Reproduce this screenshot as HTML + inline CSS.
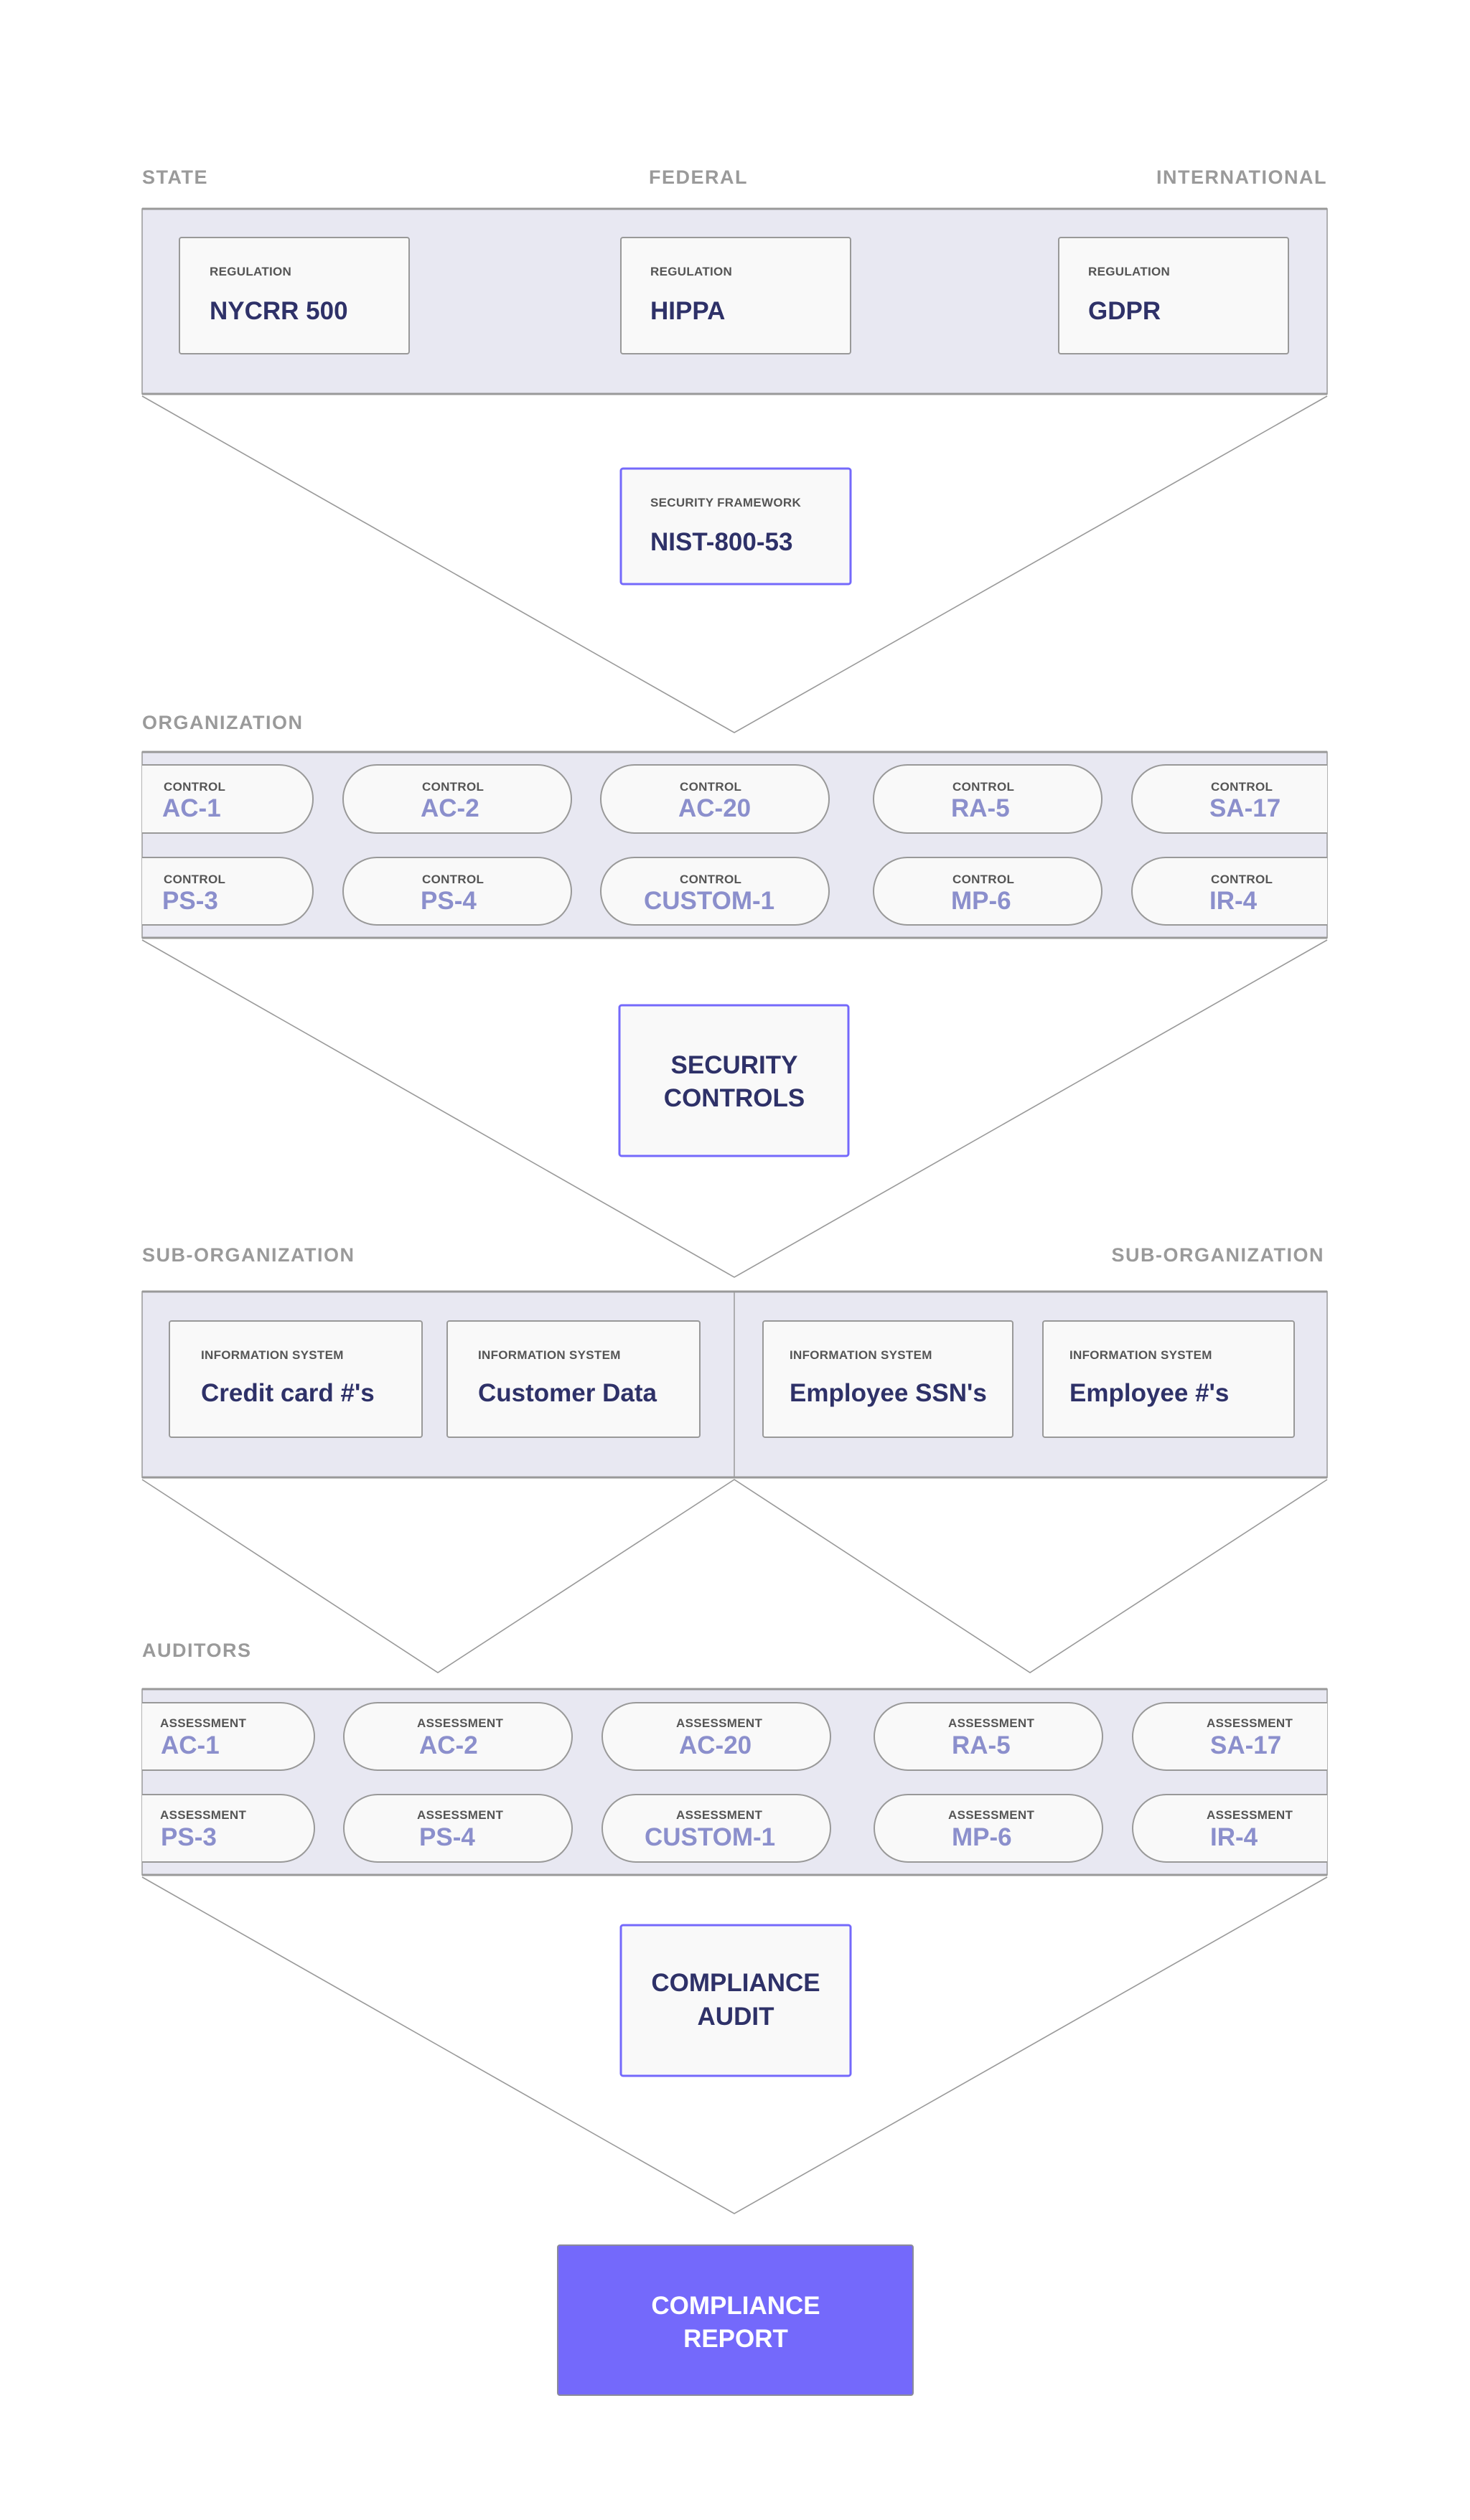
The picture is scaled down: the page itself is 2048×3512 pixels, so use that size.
<!DOCTYPE html>
<html><head><meta charset="utf-8"><style>
html,body{margin:0;padding:0;background:#fff;}
svg{display:block;}
text{font-family:"Liberation Sans",sans-serif;font-weight:bold;}
.sec{fill:#9a9a9a;font-size:27px;letter-spacing:1.5px;}
.lab{fill:#555;font-size:17px;letter-spacing:0.3px;}
.big{fill:#2e3168;font-size:35px;}
.pil{fill:#8b8fcc;font-size:35px;}
.card{fill:#f9f9f9;stroke:#999;stroke-width:2;}
.pc{fill:#f9f9f9;stroke:#999;stroke-width:2;}
.band{fill:#e8e8f2;stroke:#999;stroke-width:1.5;}
.ln{stroke:#999;stroke-width:1.6;fill:none;}
.pb{fill:#f9f9f9;stroke:#7469fb;stroke-width:3;}
</style></head><body>
<svg width="2048" height="3512" viewBox="0 0 2048 3512" xmlns="http://www.w3.org/2000/svg">
<defs>
<clipPath id="c1"><rect x="198" y="1048" width="1651" height="259"/></clipPath>
<clipPath id="c2"><rect x="198" y="2354" width="1651" height="259"/></clipPath>
</defs>

<!-- Section 1 -->
<text class="sec" x="198" y="256">STATE</text>
<text class="sec" x="904" y="256">FEDERAL</text>
<text class="sec" x="1849" y="256" text-anchor="end">INTERNATIONAL</text>
<rect class="band" x="198" y="291" width="1651" height="258"/>
<line x1="198" y1="291" x2="1849" y2="291" stroke="#999" stroke-width="3"/>
<line x1="198" y1="549" x2="1849" y2="549" stroke="#999" stroke-width="3"/>
<rect class="card" x="250" y="331" width="320" height="162" rx="3"/>
<rect class="card" x="865" y="331" width="320" height="162" rx="3"/>
<rect class="card" x="1475" y="331" width="320" height="162" rx="3"/>
<text class="lab" x="292" y="384">REGULATION</text>
<text class="big" x="292" y="445">NYCRR 500</text>
<text class="lab" x="906" y="384">REGULATION</text>
<text class="big" x="906" y="445">HIPPA</text>
<text class="lab" x="1516" y="384">REGULATION</text>
<text class="big" x="1516" y="445">GDPR</text>
<polyline class="ln" points="198,552 1023,1021 1849,552"/>
<rect class="pb" x="865" y="653" width="320" height="161" rx="3"/>
<text class="lab" x="906" y="706">SECURITY FRAMEWORK</text>
<text class="big" x="906" y="767">NIST-800-53</text>

<!-- Section 2 -->
<text class="sec" x="198" y="1016">ORGANIZATION</text>
<rect class="band" x="198" y="1048" width="1651" height="259"/>
<line x1="198" y1="1048" x2="1849" y2="1048" stroke="#999" stroke-width="3"/>
<line x1="198" y1="1307" x2="1849" y2="1307" stroke="#999" stroke-width="3"/>
<g clip-path="url(#c1)">
<rect class="pc" x="118" y="1066" width="318" height="95" rx="47"/>
<rect class="pc" x="478" y="1066" width="318" height="95" rx="47"/>
<rect class="pc" x="837" y="1066" width="318" height="95" rx="47"/>
<rect class="pc" x="1217" y="1066" width="318" height="95" rx="47"/>
<rect class="pc" x="1577" y="1066" width="318" height="95" rx="47"/>
<rect class="pc" x="118" y="1195" width="318" height="94" rx="47"/>
<rect class="pc" x="478" y="1195" width="318" height="94" rx="47"/>
<rect class="pc" x="837" y="1195" width="318" height="94" rx="47"/>
<rect class="pc" x="1217" y="1195" width="318" height="94" rx="47"/>
<rect class="pc" x="1577" y="1195" width="318" height="94" rx="47"/>
</g>
<g>
<text class="lab" x="228" y="1102">CONTROL</text><text class="pil" x="226" y="1138">AC-1</text>
<text class="lab" x="588" y="1102">CONTROL</text><text class="pil" x="586" y="1138">AC-2</text>
<text class="lab" x="947" y="1102">CONTROL</text><text class="pil" x="945" y="1138">AC-20</text>
<text class="lab" x="1327" y="1102">CONTROL</text><text class="pil" x="1325" y="1138">RA-5</text>
<text class="lab" x="1687" y="1102">CONTROL</text><text class="pil" x="1685" y="1138">SA-17</text>
<text class="lab" x="228" y="1231">CONTROL</text><text class="pil" x="226" y="1267">PS-3</text>
<text class="lab" x="588" y="1231">CONTROL</text><text class="pil" x="586" y="1267">PS-4</text>
<text class="lab" x="947" y="1231">CONTROL</text><text class="pil" x="897" y="1267">CUSTOM-1</text>
<text class="lab" x="1327" y="1231">CONTROL</text><text class="pil" x="1325" y="1267">MP-6</text>
<text class="lab" x="1687" y="1231">CONTROL</text><text class="pil" x="1685" y="1267">IR-4</text>
</g>
<polyline class="ln" points="198,1310 1023,1780 1849,1310"/>
<rect class="pb" x="863" y="1401" width="319" height="210" rx="3"/>
<text class="big" x="1023" y="1496" text-anchor="middle">SECURITY</text>
<text class="big" x="1023" y="1542" text-anchor="middle">CONTROLS</text>

<!-- Section 3 -->
<text class="sec" x="198" y="1758">SUB-ORGANIZATION</text>
<text class="sec" x="1845" y="1758" text-anchor="end">SUB-ORGANIZATION</text>
<rect class="band" x="198" y="1800" width="1651" height="259"/>
<line x1="198" y1="1800" x2="1849" y2="1800" stroke="#999" stroke-width="3"/>
<line x1="198" y1="2059" x2="1849" y2="2059" stroke="#999" stroke-width="3"/>
<line x1="1023" y1="1800" x2="1023" y2="2059" stroke="#999" stroke-width="1.5"/>
<rect class="card" x="236" y="1841" width="352" height="162" rx="3"/>
<rect class="card" x="623" y="1841" width="352" height="162" rx="3"/>
<rect class="card" x="1063" y="1841" width="348" height="162" rx="3"/>
<rect class="card" x="1453" y="1841" width="350" height="162" rx="3"/>
<text class="lab" x="280" y="1894">INFORMATION SYSTEM</text>
<text class="big" x="280" y="1953">Credit card #'s</text>
<text class="lab" x="666" y="1894">INFORMATION SYSTEM</text>
<text class="big" x="666" y="1953">Customer Data</text>
<text class="lab" x="1100" y="1894">INFORMATION SYSTEM</text>
<text class="big" x="1100" y="1953">Employee SSN's</text>
<text class="lab" x="1490" y="1894">INFORMATION SYSTEM</text>
<text class="big" x="1490" y="1953">Employee #'s</text>
<polyline class="ln" points="198,2062 610,2331 1023,2062 1435,2331 1849,2062"/>

<!-- Section 4 -->
<text class="sec" x="198" y="2309">AUDITORS</text>
<rect class="band" x="198" y="2354" width="1651" height="259"/>
<line x1="198" y1="2354" x2="1849" y2="2354" stroke="#999" stroke-width="3"/>
<line x1="198" y1="2613" x2="1849" y2="2613" stroke="#999" stroke-width="3"/>
<g clip-path="url(#c2)">
<rect class="pc" x="120" y="2373" width="318" height="94" rx="47"/>
<rect class="pc" x="479" y="2373" width="318" height="94" rx="47"/>
<rect class="pc" x="839" y="2373" width="318" height="94" rx="47"/>
<rect class="pc" x="1218" y="2373" width="318" height="94" rx="47"/>
<rect class="pc" x="1578" y="2373" width="318" height="94" rx="47"/>
<rect class="pc" x="120" y="2501" width="318" height="94" rx="47"/>
<rect class="pc" x="479" y="2501" width="318" height="94" rx="47"/>
<rect class="pc" x="839" y="2501" width="318" height="94" rx="47"/>
<rect class="pc" x="1218" y="2501" width="318" height="94" rx="47"/>
<rect class="pc" x="1578" y="2501" width="318" height="94" rx="47"/>
</g>
<text class="lab" x="223" y="2407">ASSESSMENT</text><text class="pil" x="224" y="2444">AC-1</text>
<text class="lab" x="581" y="2407">ASSESSMENT</text><text class="pil" x="584" y="2444">AC-2</text>
<text class="lab" x="942" y="2407">ASSESSMENT</text><text class="pil" x="946" y="2444">AC-20</text>
<text class="lab" x="1321" y="2407">ASSESSMENT</text><text class="pil" x="1326" y="2444">RA-5</text>
<text class="lab" x="1681" y="2407">ASSESSMENT</text><text class="pil" x="1686" y="2444">SA-17</text>
<text class="lab" x="223" y="2535">ASSESSMENT</text><text class="pil" x="224" y="2572">PS-3</text>
<text class="lab" x="581" y="2535">ASSESSMENT</text><text class="pil" x="584" y="2572">PS-4</text>
<text class="lab" x="942" y="2535">ASSESSMENT</text><text class="pil" x="898" y="2572">CUSTOM-1</text>
<text class="lab" x="1321" y="2535">ASSESSMENT</text><text class="pil" x="1326" y="2572">MP-6</text>
<text class="lab" x="1681" y="2535">ASSESSMENT</text><text class="pil" x="1686" y="2572">IR-4</text>
<polyline class="ln" points="198,2616 1023,3085 1849,2616"/>
<rect class="pb" x="865" y="2683" width="320" height="210" rx="3"/>
<text class="big" x="1025" y="2775" text-anchor="middle">COMPLIANCE</text>
<text class="big" x="1025" y="2822" text-anchor="middle">AUDIT</text>

<rect x="777" y="3129" width="495" height="209" rx="3" fill="#7469fb" stroke="#8a8a9a" stroke-width="2"/>
<text class="big" x="1025" y="3225" text-anchor="middle" style="fill:#fff">COMPLIANCE</text>
<text class="big" x="1025" y="3271" text-anchor="middle" style="fill:#fff">REPORT</text>
</svg>
</body></html>
